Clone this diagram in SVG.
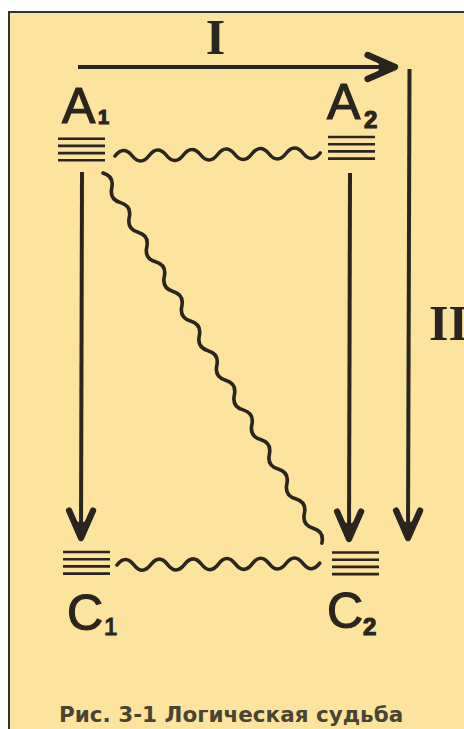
<svg xmlns="http://www.w3.org/2000/svg" width="464" height="729" viewBox="0 0 464 729">
<style>
.ink{stroke:#2a2520;fill:none}
.ln{stroke-width:4;stroke-linecap:butt}
.wave{stroke-width:3.6;stroke-linecap:round;stroke-linejoin:round}
.lbl{font-family:"Liberation Sans",Arial,sans-serif;fill:#2a2520;stroke:#2a2520;stroke-width:1.2}
.rom{font-family:"Liberation Serif","Times New Roman",serif;font-weight:bold;fill:#2a2520}
.cap{font-family:"DejaVu Sans",Verdana,sans-serif;font-weight:bold;fill:#4a4434}
</style>
<defs>
<marker id="ah" markerUnits="userSpaceOnUse" markerWidth="40" markerHeight="40" viewBox="-30 -15 35 30" refX="0" refY="0" orient="auto">
<path d="M-24,-10.5 L0,0 L-24,10.5" fill="none" stroke="#2a2520" stroke-width="5.5" stroke-linecap="round" stroke-linejoin="round"/>
<path d="M0,0 L-16,-6 L-13,0 L-16,6 Z" fill="#2a2520"/>
</marker>
<g id="bars" class="ink" stroke-width="2.6">
<line x1="0" y1="0" x2="47" y2="0"/>
<line x1="0" y1="7.2" x2="47" y2="7.2"/>
<line x1="0" y1="14.4" x2="47" y2="14.4"/>
<line x1="0" y1="21.6" x2="47" y2="21.6"/>
</g>
</defs>
<rect x="0" y="0" width="464" height="729" fill="#ffffff"/>
<rect x="9" y="12" width="520" height="800" fill="#fde49e" stroke="#333333" stroke-width="2"/>
<g id="connectors" class="ink">
<line class="ln" x1="78" y1="67" x2="395" y2="67" marker-end="url(#ah)"/>
<line class="ln" x1="409.5" y1="69" x2="408" y2="538" marker-end="url(#ah)"/>
<line class="ln" x1="82" y1="172" x2="81" y2="538" marker-end="url(#ah)"/>
<line class="ln" x1="350" y1="173" x2="349" y2="539" marker-end="url(#ah)"/>
<path class="wave" d="M115,156 q8.5,-11 17.1,-0.25 t17.1,-0.25 t17.1,-0.25 t17.1,-0.25 t17.1,-0.25 t17.1,-0.25 t17.1,-0.25 t17.1,-0.25 t17.1,-0.25 t17.1,-0.25 t17.1,-0.25 t17.1,-0.25"/>
<path class="wave" d="M117,565 q8.5,-11 16.9,-0.15 t16.9,-0.15 t16.9,-0.15 t16.9,-0.15 t16.9,-0.15 t16.9,-0.15 t16.9,-0.15 t16.9,-0.15 t16.9,-0.15 t16.9,-0.15 t16.9,-0.15 t16.9,-0.15"/>
<path class="wave" transform="translate(103,173) rotate(59.4)" d="M0,0 q8.6,-8 17.2,0 t17.2,0 t17.2,0 t17.2,0 t17.2,0 t17.2,0 t17.2,0 t17.2,0 t17.2,0 t17.2,0 t17.2,0 t17.2,0 t17.2,0 t17.2,0 t17.2,0 t17.2,0 t17.2,0 t17.2,0 t17.2,0 t17.2,0 t17.2,0 t17.2,0 t17.2,0 t17.2,0 t17.2,0"/>
</g>
<g id="label-I"><text class="rom" x="215.5" y="54" font-size="50" text-anchor="middle">I</text></g>
<g id="label-II"><text class="rom" x="429" y="340" font-size="50">II</text></g>
<g id="node-A1">
<text class="lbl" x="62" y="123" font-size="50">A</text>
<text class="lbl" x="98" y="124" font-size="20" font-weight="bold">1</text>
<use href="#bars" x="58" y="138.7"/>
</g>
<g id="node-A2">
<text class="lbl" x="327" y="119" font-size="50">A</text>
<text class="lbl" x="364" y="128" font-size="24" font-weight="bold">2</text>
<use href="#bars" x="328" y="137"/>
</g>
<g id="node-C1">
<use href="#bars" x="63" y="552"/>
<text class="lbl" x="67" y="630" font-size="50">C</text>
<text class="lbl" x="104" y="635" font-size="24">1</text>
</g>
<g id="node-C2">
<use href="#bars" x="332" y="552.5"/>
<text class="lbl" x="327" y="628" font-size="50">C</text>
<text class="lbl" x="363" y="635" font-size="24" font-weight="bold">2</text>
</g>
<g id="caption"><text class="cap" x="59" y="722" font-size="21.5">Рис. 3-1 Логическая судьба</text></g>
</svg>
